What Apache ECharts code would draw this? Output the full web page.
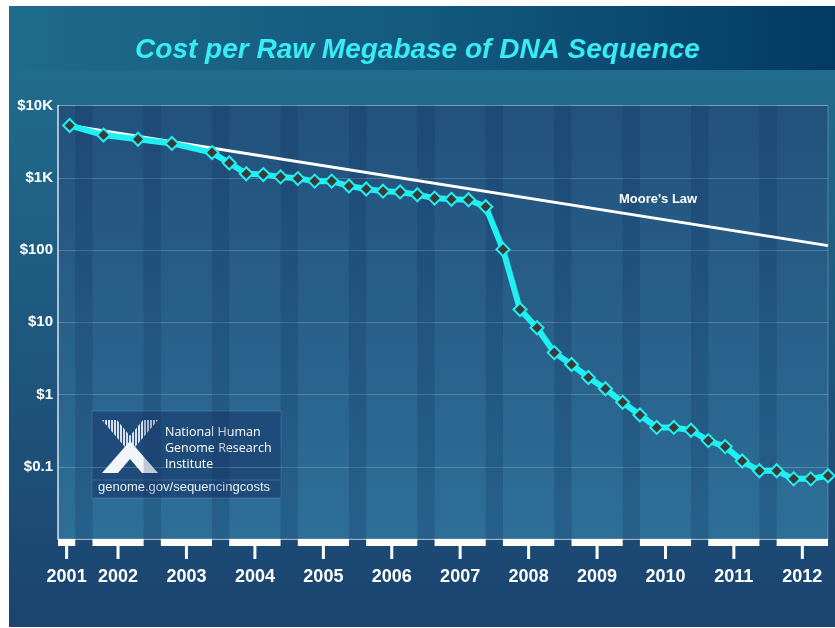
<!DOCTYPE html>
<html>
<head>
<meta charset="utf-8">
<title>Cost per Raw Megabase of DNA Sequence</title>
<script src="https://cdn.jsdelivr.net/npm/echarts@6/dist/echarts.min.js"></script>
<style>
  html, body { margin: 0; padding: 0; background: #fff; }
  #main { width: 835px; height: 628px; }
</style>
</head>
<body>
<div id="main"></div>
<script>
// cost per raw megabase (USD)
var dates = ['2001-09-01', '2002-03-01', '2002-09-01', '2003-03-01', '2003-10-01',
  '2004-01-01', '2004-04-01', '2004-07-01', '2004-10-01',
  '2005-01-01', '2005-04-01', '2005-07-01', '2005-10-01',
  '2006-01-01', '2006-04-01', '2006-07-01', '2006-10-01',
  '2007-01-01', '2007-04-01', '2007-07-01', '2007-10-01',
  '2008-01-01', '2008-04-01', '2008-07-01', '2008-10-01',
  '2009-01-01', '2009-04-01', '2009-07-01', '2009-10-01',
  '2010-01-01', '2010-04-01', '2010-07-01', '2010-10-01',
  '2011-01-01', '2011-04-01', '2011-07-01', '2011-10-01',
  '2012-01-01', '2012-04-01', '2012-07-01', '2012-10-01'];
var costPerMb = [5292, 3899, 3414, 2986, 2231,
  1599, 1136, 1107, 1029,
  974, 898, 899, 767,
  699, 652, 636, 582,
  523, 503, 496, 397,
  102, 15.0, 8.4, 3.8,
  2.6, 1.72, 1.2, 0.78,
  0.52, 0.35, 0.35, 0.32,
  0.23, 0.19, 0.12, 0.088,
  0.088, 0.068, 0.068, 0.075];

// Moore's law line (end points)
var mooreDates = ['2001-09-01', '2012-10-01'];
var mooreCost = [5292, 115];

var years = ['2001', '2002', '2003', '2004', '2005', '2006', '2007', '2008', '2009', '2010', '2011', '2012'];
var yTickValues = [10000, 1000, 100, 10, 1, 0.1];
var yTickLabels = ['$10K', '$1K', '$100', '$10', '$1', '$0.1'];

var xMin = '2001-07-01';
var xMax = '2012-10-01';
var FONT = 'Arial, "Liberation Sans", sans-serif';

var myChart = echarts.init(document.getElementById('main'));

// white year bars (Jan-Sep) under the axis, darker Oct-Dec stripes in the plot
var yearBars = years.map(function (y) {
  var start = y + '-01-01';
  if (start < xMin) start = xMin;
  return [start, y + '-10-01'];
});
var stripes = [];
for (var i = 0; i < years.length - 1; i++) {
  stripes.push([years[i] + '-10-01', years[i + 1] + '-01-01']);
}

var seriesData = dates.map(function (d, i) { return [d, costPerMb[i]]; });
var mooreData = mooreDates.map(function (d, i) { return [d, mooreCost[i]]; });

// striped fill for the logo
var stripeCanvas = document.createElement('canvas');
stripeCanvas.width = 3; stripeCanvas.height = 4;
var sctx = stripeCanvas.getContext('2d');
sctx.fillStyle = 'rgba(235,240,248,0.9)';
sctx.fillRect(0, 0, 2, 4);

var option = {
  backgroundColor: '#fff',
  animation: false,
  title: {
    text: 'Cost per Raw Megabase of DNA Sequence',
    left: 'center',
    top: 31,
    textStyle: {
      color: '#38ecf6',
      fontSize: 28,
      fontWeight: 'bold',
      fontStyle: 'italic',
      fontFamily: FONT
    }
  },
  grid: {
    left: 58,
    right: 7,
    top: 105.5,
    bottom: 89,
    show: true,
    borderColor: 'rgba(255,255,255,0.25)',
    borderWidth: 1,
    backgroundColor: {
      type: 'linear', x: 0, y: 0, x2: 0, y2: 1,
      colorStops: [
        {offset: 0, color: '#22517d'},
        {offset: 1, color: '#2e6f97'}
      ]
    }
  },
  xAxis: {
    type: 'time',
    min: xMin,
    max: xMax,
    axisLine: { show: true, lineStyle: { color: 'rgba(255,255,255,0.4)' } },
    axisTick: { show: false },
    axisLabel: { show: false },
    splitLine: { show: false }
  },
  yAxis: {
    type: 'log',
    logBase: 10,
    min: 0.01,
    max: 10000,
    axisLine: { show: true, lineStyle: { color: 'rgba(255,255,255,0.75)', width: 1.5 } },
    axisTick: { show: false },
    axisLabel: {
      color: '#fff',
      fontSize: 15,
      fontWeight: 'bold',
      fontFamily: FONT,
      margin: 5,
      formatter: function (v) {
        for (var k = 0; k < yTickValues.length; k++) {
          if (Math.abs(Math.log10(v) - Math.log10(yTickValues[k])) < 1e-6) return yTickLabels[k];
        }
        return '';
      }
    },
    splitLine: { show: true, lineStyle: { color: 'rgba(255,255,255,0.2)', width: 1 } }
  },
  graphic: [
    // page background
    {
      type: 'rect', z: -100, silent: true,
      shape: { x: 9, y: 6, width: 826, height: 621 },
      style: {
        fill: {
          type: 'linear', x: 0, y: 0, x2: 0, y2: 1,
          colorStops: [
            {offset: 0, color: '#21708f'},
            {offset: 0.45, color: '#1f5b81'},
            {offset: 1, color: '#1b4470'}
          ]
        }
      }
    },
    // title band
    {
      type: 'rect', z: -99, silent: true,
      shape: { x: 9, y: 6, width: 826, height: 64 },
      style: {
        fill: {
          type: 'linear', x: 0, y: 0, x2: 1, y2: 0,
          colorStops: [
            {offset: 0, color: '#1f6b8b'},
            {offset: 0.5, color: '#135a7e'},
            {offset: 1, color: '#033a63'}
          ]
        }
      }
    },
    // Moore's law label
    {
      type: 'text', z: 50, left: 619, top: 193,
      style: { text: "Moore's Law", fill: '#fff', font: 'bold 13px ' + FONT }
    },
    // NHGRI logo box
    {
      type: 'group', z: 100,
      children: [
        {
          type: 'rect',
          shape: { x: 92, y: 411, width: 189, height: 87 },
          style: { fill: '#1f4b7a', stroke: 'rgba(120,170,210,0.35)', lineWidth: 1 }
        },
        {
          type: 'line',
          shape: { x1: 93, y1: 480, x2: 280, y2: 480 },
          style: { stroke: 'rgba(120,170,210,0.3)', lineWidth: 1 }
        },
        {
          type: 'polygon',
          shape: { points: [[102, 420], [117, 420], [130, 436], [143, 420], [158, 420], [130, 453]] },
          style: { fill: { image: stripeCanvas, repeat: 'repeat' } }
        },
        {
          type: 'polygon',
          shape: { points: [[102, 473], [130, 441], [158, 473], [142, 473], [130, 459], [118, 473]] },
          style: { fill: '#f2f5fa' }
        },
        {
          type: 'text', left: 165, top: 424,
          style: { text: 'National Human\nGenome Research\nInstitute', fill: '#fff', font: '12.5px "Open Sans", sans-serif', lineHeight: 16.3 }
        },
        {
          type: 'text', left: 98, top: 481,
          style: { text: 'genome.gov/sequencingcosts', fill: '#e9f0f7', font: '13px ' + FONT }
        }
      ]
    }
  ],
  series: [
    {
      name: 'stripes',
      type: 'custom',
      silent: true,
      z: 1,
      encode: { x: [0, 1] },
      data: stripes,
      renderItem: function (params, api) {
        var cs = params.coordSys;
        var x0 = api.coord([api.value(0), 1])[0];
        var x1 = api.coord([api.value(1), 1])[0];
        return {
          type: 'rect',
          shape: { x: x0, y: cs.y, width: x1 - x0, height: cs.height },
          style: { fill: 'rgba(15,45,90,0.22)' }
        };
      }
    },
    {
      name: 'years',
      type: 'custom',
      silent: true,
      clip: false,
      z: 5,
      encode: { x: [0, 1] },
      data: yearBars,
      renderItem: function (params, api) {
        var cs = params.coordSys;
        var x0 = api.coord([api.value(0), 1])[0];
        var x1 = api.coord([api.value(1), 1])[0];
        var base = cs.y + cs.height;
        var mid = (x0 + x1) / 2;
        return {
          type: 'group',
          children: [
            { type: 'rect', shape: { x: x0, y: base, width: x1 - x0, height: 7 }, style: { fill: '#fff' } },
            { type: 'rect', shape: { x: mid - 1.5, y: base + 7, width: 3, height: 13 }, style: { fill: '#fff' } },
            {
              type: 'text', x: mid, y: base + 38,
              style: {
                text: years[params.dataIndex], fill: '#fff',
                font: 'bold 18px ' + FONT, align: 'center', verticalAlign: 'middle'
              }
            }
          ]
        };
      }
    },
    {
      name: "Moore's Law",
      type: 'line',
      z: 3,
      data: mooreData,
      symbol: 'none',
      clip: false,
      lineStyle: { color: '#fff', width: 3 }
    },
    {
      name: 'Cost per Mb',
      type: 'line',
      z: 4,
      data: seriesData,
      clip: false,
      symbol: 'diamond',
      symbolSize: 13,
      lineStyle: { color: '#1ff0f2', width: 6 },
      itemStyle: { color: '#3a3a3a', borderColor: '#1ff0f2', borderWidth: 2 }
    }
  ]
};

myChart.setOption(option);
window.addEventListener('resize', function () {
  myChart.resize();
});
</script>
</body>
</html>
